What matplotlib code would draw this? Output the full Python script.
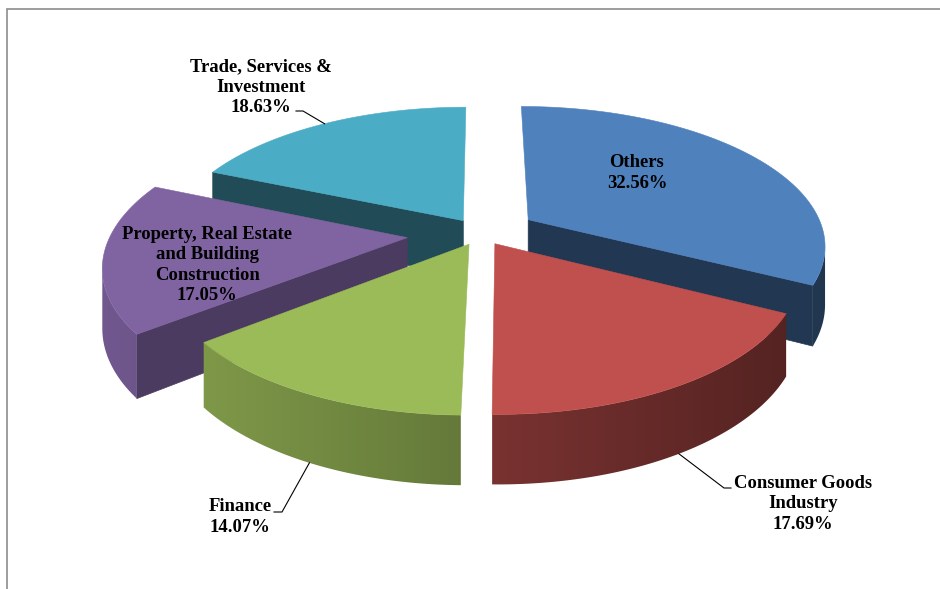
import numpy as np
import matplotlib
matplotlib.use("Agg")
import matplotlib.pyplot as plt
from matplotlib.patches import Polygon

# data
sectors = ["Others", "Consumer Goods\nIndustry", "Finance",
           "Property, Real Estate\nand Building\nConstruction",
           "Trade, Services &\nInvestment"]
shares = [32.56, 17.69, 14.07, 17.05, 18.63]
colors = ["#4F81BD", "#C0504D", "#9BBB59", "#8064A2", "#4BACC6"]
explode = [0.19, 0.09, 0.09, 0.25, 0.11]

# label layout (pixel positions of the text blocks), leader: (start, elbow) or None
label_pos = [(637, 173), (803, 504), (240, 517), (207, 265), (261, 87)]
leaders = [None, ((731, 488), (724, 488)), ((274, 512), (282, 512)),
           None, ((296, 111), (303, 111))]

# 3d pie projection (pixel space)
CX, CY = 481, 233
A, B, H, K = 296, 137, 57, 0.173


def proj(X, Z, depth=0.0):
    s = 1.0 / (1.0 + K * Z)
    return CX + A * X * s, CY - B * Z * s + H * depth * s


def shade(c, f):
    rgb = np.array(matplotlib.colors.to_rgb(c))
    return tuple(np.clip(rgb * f, 0, 1))


def side_light(x):
    # sides get darker from left to right
    return np.clip(0.88 - 0.00064 * (x - 100), 0.38, 0.9)


fig = plt.figure(figsize=(9.4, 5.89), dpi=100)
ax = fig.add_axes([0, 0, 1, 1])
ax.axis("off")

# chart frame (only top and left visible)
ax.plot([6.5, 6.5, 945], [600, 8.5, 8.5], color="#8c8c8c", lw=1.2,
        solid_joinstyle="miter", zorder=0)

vals = np.array(shares)
ang = vals / vals.sum() * 360.0
starts = 90 - np.concatenate([[0], np.cumsum(ang)[:-1]])
ends = starts - ang

slices = []
for i in range(len(vals)):
    t1, t2 = np.radians(ends[i]), np.radians(starts[i])
    mid = (t1 + t2) / 2
    ox, oz = explode[i] * np.cos(mid), explode[i] * np.sin(mid)
    slices.append((oz, i, t1, t2, mid, ox))

z = 1
# painter's order: back slices first
for oz, i, t1, t2, mid, ox in sorted(slices, key=lambda s: -s[0]):
    c = colors[i]
    # radial cut faces
    for t, n in ((t1, t1 - np.pi / 2), (t2, t2 + np.pi / 2)):
        if np.sin(n) < -0.05:
            f = 0.5 + 0.15 * np.cos(n)
            pts = [proj(ox, oz), proj(ox + np.cos(t), oz + np.sin(t)),
                   proj(ox + np.cos(t), oz + np.sin(t), 1), proj(ox, oz, 1)]
            ax.add_patch(Polygon(pts, closed=True, fc=shade(c, f),
                                 ec=shade(c, f), lw=0.5, zorder=z))
            z += 1
    # silhouette angles of this slice's cylinder (left / right extremes)
    tc = np.linspace(-1.5 * np.pi, 0.5 * np.pi, 4001)
    xc = proj(ox + np.cos(tc), oz + np.sin(tc))[0]
    t_left, t_right = tc[np.argmin(xc)], tc[np.argmax(xc)]
    # outer curved side (front part only), horizontal gradient
    for shift in (-2 * np.pi, 0, 2 * np.pi):
        lo, hi = max(t1 + shift, t_left), min(t2 + shift, t_right)
        if hi <= lo:
            continue
        aa = np.linspace(lo, hi, 200) - shift
        top = [proj(ox + np.cos(a), oz + np.sin(a)) for a in aa]
        bot = [proj(ox + np.cos(a), oz + np.sin(a), 1) for a in aa[::-1]]
        poly = Polygon(top + bot, closed=True, fc="none", ec="none",
                       transform=ax.transData)
        xy = np.array(top + bot)
        x0, x1 = xy[:, 0].min() - 2, xy[:, 0].max() + 2
        y0, y1 = xy[:, 1].min() - 2, xy[:, 1].max() + 2
        xs = np.linspace(x0, x1, 300)
        grad = np.array([shade(c, side_light(x)) for x in xs])[None, :, :]
        im = ax.imshow(np.repeat(grad, 2, axis=0), extent=[x0, x1, y1, y0],
                       aspect="auto", interpolation="bilinear", zorder=z)
        im.set_clip_path(poly)
        z += 1
    # top face
    tt = np.linspace(t1, t2, 240)
    rim = [proj(ox + np.cos(a), oz + np.sin(a)) for a in tt]
    ax.add_patch(Polygon([proj(ox, oz)] + rim, closed=True, fc=c, ec=c,
                         lw=0.4, zorder=z))
    z += 1

# labels and leader lines
for i in range(len(vals)):
    txt = f"{sectors[i]}\n{shares[i]:.2f}%"
    ax.text(label_pos[i][0], label_pos[i][1], txt, ha="center", va="center",
            fontsize=13.4, fontweight="bold", family="Liberation Serif",
            linespacing=1.27, color="black", zorder=z + 1)
    if leaders[i] is not None:
        mid = np.radians((starts[i] + ends[i]) / 2)
        ox, oz = explode[i] * np.cos(mid), explode[i] * np.sin(mid)
        depth = 1 if np.sin(mid) < 0 else 0
        end = proj(ox + np.cos(mid), oz + np.sin(mid), depth)
        (xa, ya), (xb, yb) = leaders[i]
        ax.plot([xa, xb, end[0]], [ya, yb, end[1]], color="black", lw=0.8,
                zorder=z + 1)

ax.set_xlim(0, 940)
ax.set_ylim(589, 0)
fig.savefig("out.png", dpi=100)
